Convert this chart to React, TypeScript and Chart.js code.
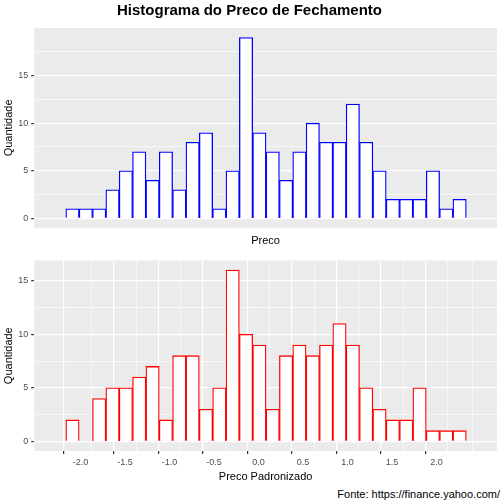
import React, { useEffect, useRef } from "react";
import Chart from "chart.js/auto";

const binsTop = [
  -2.09, -1.94, -1.79, -1.64, -1.49, -1.34, -1.19, -1.04, -0.89, -0.74, -0.59, -0.44, -0.29, -0.14, 0.01,
  0.16, 0.31, 0.46, 0.61, 0.76, 0.91, 1.06, 1.21, 1.36, 1.51, 1.66, 1.81, 1.96, 2.11, 2.26,
];
const countsPreco = [1, 1, 1, 3, 5, 7, 4, 7, 3, 8, 9, 1, 5, 19, 9, 7, 4, 7, 10, 8, 8, 12, 8, 5, 2, 2, 2, 5, 1, 2];
const binsPadronizado = [
  -2.09, -1.94, -1.79, -1.64, -1.49, -1.34, -1.19, -1.04, -0.89, -0.74, -0.59, -0.44, -0.29, -0.14, 0.01,
  0.16, 0.31, 0.46, 0.61, 0.76, 0.91, 1.06, 1.21, 1.36, 1.51, 1.66, 1.81, 1.96, 2.11, 2.26,
];
const countsPadronizado = [2, 0, 4, 5, 5, 6, 7, 2, 8, 8, 3, 5, 16, 10, 9, 3, 8, 9, 8, 9, 11, 9, 5, 3, 2, 2, 5, 1, 1, 1];

const FONT = "'Liberation Sans', Arial, sans-serif";

const panelBg = {
  id: "panelBg",
  beforeDraw(chart: any) {
    const { ctx, chartArea: a } = chart;
    ctx.save();
    ctx.fillStyle = "#ebebeb";
    ctx.fillRect(a.left, a.top, a.right - a.left, a.bottom - a.top);
    ctx.restore();
  },
};

const isHalf = (v) => Math.abs((v * 2) - Math.round(v * 2)) < 1e-6;
const isFive = (v) => Math.abs(v / 5 - Math.round(v / 5)) < 1e-6;
const tv = (c) => (c && c.tick ? c.tick.value : 0);

function makeConfig(bins, counts, color, xTitle, showX, yMin, yMax, title) {
  return {
    type: "bar",
    data: {
      datasets: [
        {
          data: bins.map((b, i) => ({ x: b, y: counts[i] })),
          backgroundColor: "#ffffff",
          borderColor: color,
          borderWidth: 1.3,
          barPercentage: 1,
          categoryPercentage: 1,
        },
      ],
    },
    plugins: [panelBg],
    options: {
      animation: false,
      responsive: false,
      layout: { padding: { left: 2, right: 7, top: 0, bottom: 0 } },
      plugins: {
        legend: { display: false },
        tooltip: { enabled: false },
        title: {
          display: !!title,
          text: title,
          font: { family: FONT, size: 15, weight: "bold" },
          color: "#000",
          padding: { top: 2, bottom: 8 },
        },
      },
      scales: {
        x: {
          type: "linear",
          min: -2.39,
          max: 2.55,
          ticks: {
            display: showX,
            stepSize: 0.25,
            autoSkip: false,
            maxRotation: 0,
            color: "#4d4d4d",
            font: { family: FONT, size: 9 },
            callback: (v) => (isHalf(v) && v > -2.3 ? Number(v).toFixed(1) : ""),
          },
          grid: {
            display: showX,
            color: "#ffffff",
            lineWidth: (c) => (isHalf(tv(c)) ? 1.2 : 0.6),
            tickLength: 3,
            tickColor: (c) => (isHalf(tv(c)) ? "#333" : "rgba(0,0,0,0)"),
          },
          border: { display: false },
          title: { display: true, text: xTitle, color: "#000", font: { family: FONT, size: 11 }, padding: { top: showX ? 0 : 4 } },
        },
        y: {
          min: yMin,
          max: yMax,
          afterBuildTicks: (s) => {
            s.ticks = [0, 2.5, 5, 7.5, 10, 12.5, 15, 17.5].filter((v) => v <= yMax).map((v) => ({ value: v }));
          },
          ticks: {
            color: "#4d4d4d",
            font: { family: FONT, size: 9 },
            callback: (v) => (isFive(v) ? String(v) : ""),
          },
          grid: {
            color: "#ffffff",
            lineWidth: (c) => (isFive(tv(c)) ? 1.2 : 0.6),
            tickLength: 3,
            tickColor: (c) => (isFive(tv(c)) ? "#333" : "rgba(0,0,0,0)"),
          },
          border: { display: false },
          title: { display: true, text: "Quantidade", color: "#000", font: { family: FONT, size: 11 }, padding: 0 },
        },
      },
    },
  };
}

export default function App() {
  const topRef = useRef(null);
  const botRef = useRef(null);

  useEffect(() => {
    document.body.style.margin = "0";
    const c1 = new Chart(
      topRef.current.getContext("2d"),
      makeConfig(binsTop, countsPreco, "#0000ff", "Preco", false, -0.99, 20, "Histograma do Preco de Fechamento") as any
    );
    const c2 = new Chart(
      botRef.current.getContext("2d"),
      makeConfig(binsPadronizado, countsPadronizado, "#ff0000", "Preco Padronizado", true, -0.9, 16.9, "") as any
    );
    return () => {
      c1.destroy();
      c2.destroy();
    };
  }, []);

  return (
    <div style={{ position: "relative", width: 504, height: 504, background: "#fff", fontFamily: FONT }}>
      <canvas ref={topRef} width={504} height={252} style={{ position: "absolute", left: 0, top: 0 }} />
      <canvas ref={botRef} width={504} height={236} style={{ position: "absolute", left: 0, top: 252 }} />
      <div style={{ position: "absolute", right: 4, top: 488, fontSize: 11, color: "#000" }}>
        Fonte: https://finance.yahoo.com/
      </div>
    </div>
  );
}
